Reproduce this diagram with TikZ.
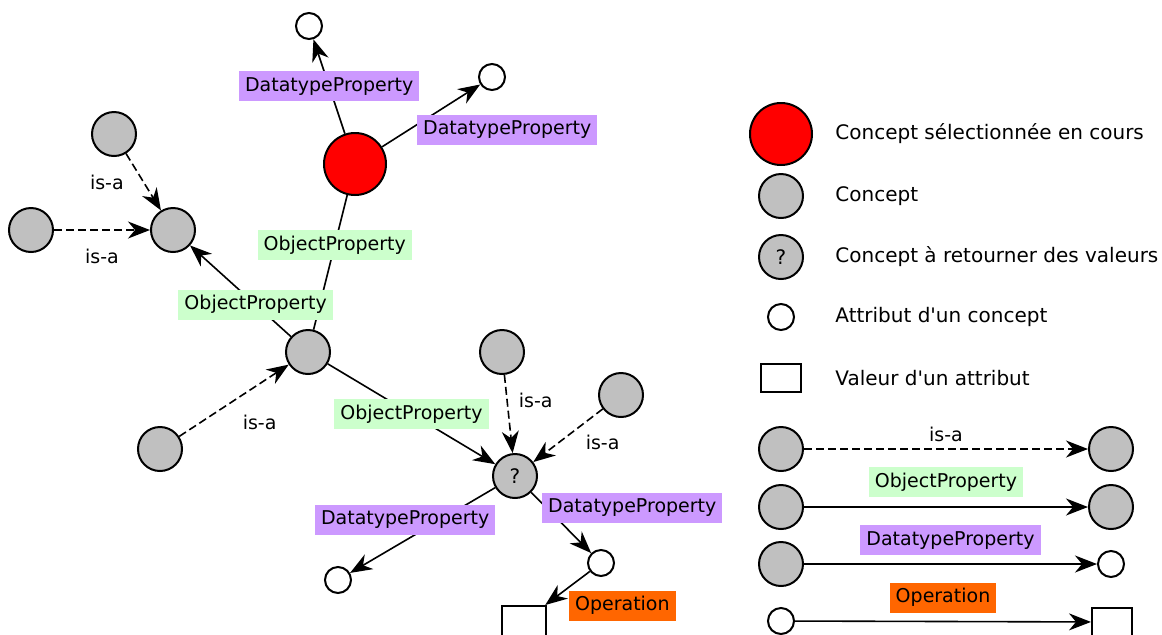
\documentclass[tikz,border=0pt]{standalone}
\usepackage{fontspec}
\setmainfont{DejaVu Sans}
\usepackage{tikz}
\usetikzlibrary{arrows.meta, positioning}

\definecolor{conceptgray}{RGB}{192,192,192}
\definecolor{dpviolet}{RGB}{204,153,255}
\definecolor{opgreen}{RGB}{204,255,204}
\definecolor{operorange}{RGB}{255,102,0}

\begin{document}
\begin{tikzpicture}[
  x=0.5pt, y=-0.5pt,
  concept/.style={circle, draw=black, line width=1pt, fill=conceptgray,
             minimum size=22pt, inner sep=0pt},
  selected/.style={concept, fill=red, minimum size=31pt},
  query/.style={concept, font=\fontsize{10}{12}\selectfont},
  attrib/.style={circle, draw=black, line width=1pt, fill=white,
             minimum size=13pt, inner sep=0pt},
  valuebox/.style={rectangle, draw=black, line width=1pt, fill=white,
             minimum width=22pt, minimum height=15pt, inner sep=0pt},
  prop/.style={font=\fontsize{9.5}{11}\selectfont, inner xsep=3pt, inner ysep=0pt,
             minimum height=15pt},
  dprop/.style={prop, fill=dpviolet},
  oprop/.style={prop, fill=opgreen},
  operation/.style={prop, fill=operorange},
  isa/.style={font=\fontsize{9.5}{11}\selectfont, inner sep=1pt},
  legendtext/.style={anchor=west, inner sep=0pt, font=\fontsize{10}{12}\selectfont},
  arrow/.style={-{Stealth[length=11pt, width=8.5pt, inset=3.5pt]}, line width=0.8pt},
  isarrow/.style={arrow, dash pattern=on 4pt off 2pt}
]
\useasboundingbox (0,0) rectangle (1162,634);

\node[selected] (sel) at (355,164) {};
\node[attrib] (selTop) at (309,26) {};
\node[attrib] (selRight) at (492,77) {};
\node[concept] (upA) at (114,134) {};
\node[concept] (leftB) at (31,230) {};
\node[concept] (parent) at (173,230) {};
\node[concept] (mid) at (308,352) {};
\node[concept] (lowE) at (160,449) {};
\node[concept] (subF) at (502,352) {};
\node[concept] (subG) at (621,395) {};
\node[query] (query) at (515,476) {?};
\node[attrib] (qLeft) at (338,580) {};
\node[attrib] (qRight) at (601,563) {};
\node[valuebox] (qValue) at (524,621) {};

\draw[arrow] (sel) -- node[dprop] {DatatypeProperty} (selTop);
\draw[arrow] (sel) -- node[dprop, pos=0.35, anchor=west, yshift=-2.5pt] {DatatypeProperty} (selRight);
\draw[line width=0.8pt] (mid) -- node[oprop, pos=0.63] {ObjectProperty} (sel);
\draw[arrow] (mid) -- node[oprop, pos=0.35] {ObjectProperty} (parent);
\draw[isarrow] (upA) -- node[isa, left=8.5pt] {is-a} (parent);
\draw[isarrow] (leftB) -- node[isa, below=8pt] {is-a} (parent);
\draw[isarrow] (lowE) -- node[isa, below right=6pt and 3pt] {is-a} (mid);
\draw[arrow] (mid) -- node[oprop] {ObjectProperty} (query);
\draw[isarrow] (subF) -- node[isa, pos=0.33, right=4.5pt] {is-a} (query);
\draw[isarrow] (subG) -- node[isa, right=7.5pt, yshift=-3.5pt] {is-a} (query);
\draw[arrow] (query) -- node[dprop, pos=0.62, anchor=south, yshift=2.5pt] {DatatypeProperty} (qLeft);
\draw[arrow] (query) -- node[dprop, pos=0.17, anchor=west, yshift=-2.5pt] {DatatypeProperty} (qRight);
\draw[arrow] (qRight) -- node[operation, pos=0.55, anchor=north west, xshift=1.5pt] {Operation} (qValue);

\node[selected] (lgSel) at (781,134) {};
\node[legendtext] (lgSelText) at (835,134) {Concept sélectionnée en cours};
\node[concept] (lgConcept) at (781,196) {};
\node[legendtext] (lgConceptText) at (835,196) {Concept};
\node[query] (lgQuery) at (781,257) {?};
\node[legendtext] (lgQueryText) at (835,257) {Concept à retourner des valeurs};
\node[attrib] (lgAttrib) at (781,317) {};
\node[legendtext] (lgAttribText) at (835,317) {Attribut d\textquotesingle un concept};
\node[valuebox, minimum width=20pt, minimum height=14pt] (lgValue) at (781,378) {};
\node[legendtext] (lgValueText) at (835,378) {Valeur d\textquotesingle un attribut};

\node[concept] (isaFrom) at (781,449) {};
\node[concept] (isaTo) at (1111,449) {};
\draw[isarrow] (isaFrom) -- node[isa, above=2pt] {is-a} (isaTo);
\node[concept] (opFrom) at (781,507) {};
\node[concept] (opTo) at (1111,507) {};
\draw[arrow] (opFrom) -- node[oprop, above=4.5pt] {ObjectProperty} (opTo);
\node[concept] (dpFrom) at (781,564) {};
\node[attrib] (dpTo) at (1111,564) {};
\draw[arrow] (dpFrom) -- node[dprop, above=4pt] {DatatypeProperty} (dpTo);
\node[attrib] (operFrom) at (781,621) {};
\node[valuebox, minimum width=20pt, minimum height=14pt] (operTo) at (1112,622) {};
\draw[arrow] (operFrom) -- node[operation, above=4pt] {Operation} (operTo);

\end{tikzpicture}
\end{document}
